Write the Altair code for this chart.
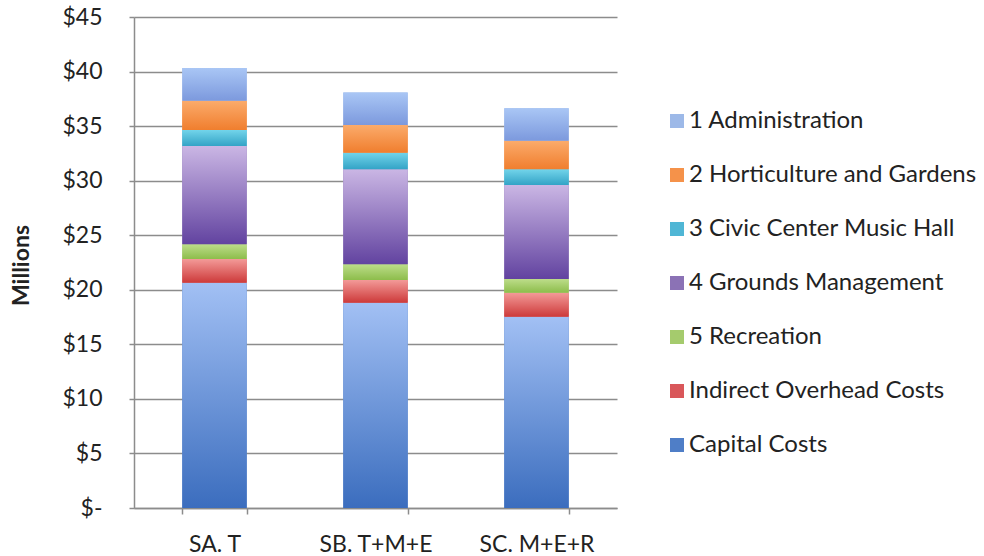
import altair as alt
import pandas as pd

categories = ["SA. T", "SB. T+M+E", "SC. M+E+R"]

# stacked from bottom to top
series_names = [
    "Capital Costs",
    "Indirect Overhead Costs",
    "5 Recreation",
    "4 Grounds Management",
    "3 Civic Center Music Hall",
    "2 Horticulture and Gardens",
    "1 Administration",
]
capital = [20.65, 18.82, 17.53]
indirect = [2.17, 2.08, 2.20]
recreation = [1.35, 1.44, 1.26]
grounds = [9.00, 8.70, 8.61]
civic = [1.47, 1.53, 1.44]
horticulture = [2.68, 2.53, 2.62]
administration = [3.00, 2.97, 2.97]
series_values = [capital, indirect, recreation, grounds, civic, horticulture, administration]

# gradient colours (top, bottom) and solid legend colours
grad_top = ["#a2c0f4", "#f39a98", "#bddd8a", "#cab6e4", "#72d4ea", "#fbab6b", "#a9c6f5"]
grad_bot = ["#3b6dbe", "#cd3a3a", "#8dbd4b", "#6243a0", "#33a3c6", "#f07e2e", "#7c99dd"]
legend_cols = ["#4f7ec7", "#d9575a", "#a5cb6d", "#8b72b5", "#4fb6d5", "#f5924a", "#9db9e8"]

rows = []
for i, cat in enumerate(categories):
    for s, name in enumerate(series_names):
        rows.append({"category": cat, "series": name, "order": s, "value": series_values[s][i]})
df = pd.DataFrame(rows)

FONT = "Lato"
GRID = "#8c8c8c"

base = alt.Chart(df).transform_stack(
    stack="value",
    groupby=["category"],
    as_=["y0", "y1"],
    sort=[alt.SortField("order", order="ascending")],
)

x_enc = alt.X(
    "category:N",
    sort=categories,
    scale=alt.Scale(paddingInner=0.6, paddingOuter=0.3),
    axis=alt.Axis(
        title=None, labelAngle=0, tickBand="extent", labelFont=FONT, labelFontSize=23,
        labelColor="#222222", labelPadding=19, tickSize=6, tickColor=GRID, tickWidth=1.5,
        domainColor=GRID, domainWidth=1.5, grid=False,
    ),
)
y_enc = alt.Y(
    "y0:Q",
    scale=alt.Scale(domain=[0, 45], nice=False),
    axis=alt.Axis(
        title="Millions", values=list(range(0, 46, 5)),
        labelExpr="datum.value == 0 ? '$-' : '$' + datum.value",
        labelFont=FONT, labelFontSize=23, labelColor="#222222", labelPadding=27,
        tickSize=5, tickColor=GRID, tickWidth=1.5, domainColor=GRID, domainWidth=1.5,
        grid=True, gridColor=GRID, gridWidth=1.5,
        titleFont=FONT, titleFontSize=23, titleFontWeight="bold", titleColor="#222222",
        titleAngle=270, titleX=-113, titleY=248, titleAlign="center", titleBaseline="middle",
    ),
)

legend_order = list(reversed(series_names))
legend_colors = list(reversed(legend_cols))

legend_layer = base.mark_bar().encode(
    x=x_enc,
    y=y_enc,
    y2="y1:Q",
    color=alt.Color(
        "series:N",
        scale=alt.Scale(domain=legend_order, range=legend_colors),
        legend=alt.Legend(
            title=None, orient="none", legendX=531, legendY=92, symbolType="square",
            symbolSize=196, symbolStrokeWidth=0, labelFont=FONT, labelFontSize=24,
            labelColor="#222222", rowPadding=30, labelLimit=400, labelOffset=0,
        ),
    ),
)

layers = [legend_layer]
for s, name in enumerate(series_names):
    grad = alt.Gradient(
        gradient="linear",
        stops=[alt.GradientStop(color=grad_top[s], offset=0),
               alt.GradientStop(color=grad_bot[s], offset=1)],
        x1=0, x2=0, y1=0, y2=1,
    )
    layers.append(
        base.transform_filter(alt.datum.series == name)
        .mark_bar(fill=grad)
        .encode(x=x_enc, y=y_enc, y2="y1:Q")
    )

chart = alt.layer(*layers).properties(
    width=483,
    height=491,
    padding={"left": 134, "top": 17, "right": 367, "bottom": 48},
    autosize=alt.AutoSizeParams(type="none"),
    background="white",
).configure_view(stroke=None)

chart.save("out.html", embed_options={"renderer": "svg", "actions": False})
